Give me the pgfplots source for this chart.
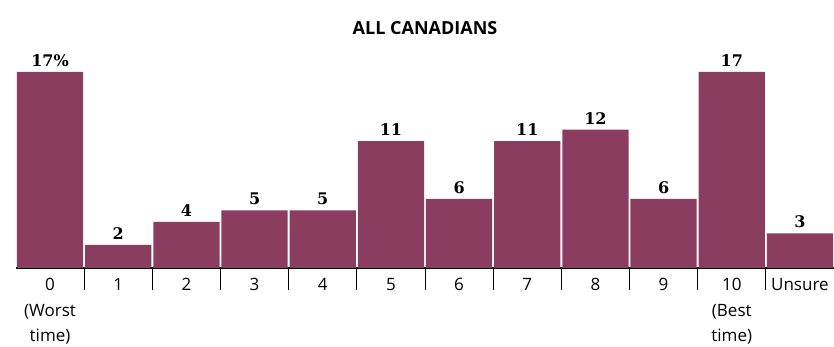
\documentclass[border=0pt]{standalone}
\usepackage{fontspec}
\setmainfont{Open Sans}
\newfontfamily\valfont{DejaVu Serif}
\usepackage{pgfplots}
\pgfplotsset{compat=1.18}
\usepackage{pgfplotstable}
\definecolor{barc}{RGB}{138,61,94}
\pgfplotstableread{
x y lab
0 17 17\%
1 2 2
2 4 4
3 5 5
4 5 5
5 11 11
6 6 6
7 11 11
8 12 12
9 6 6
10 17 17
11 3 3
}\datatable
\begin{document}
\begin{tikzpicture}[x=1pt,y=1pt]
\path[use as bounding box] (0,0) rectangle (834,347);
\node[font=\bfseries\fontsize{18}{20}\selectfont] at (425,319) {ALL CANADIANS};
\begin{axis}[
  at={(16pt,79pt)}, anchor=south west,
  scale only axis, width=818pt, height=196pt,
  xmin=-0.5, xmax=11.5, ymin=0, ymax=17,
  axis x line*=bottom, axis y line=none,
  x axis line style={line width=1.6pt,-},
  ytick=\empty,
  xtick={0,...,11},
  xticklabels={{0\\(Worst\\time)},1,2,3,4,5,6,7,8,9,{10\\(Best\\time)},Unsure},
  major tick length=0pt,
  xticklabel style={align=center, font=\fontsize{17}{25.5}\selectfont, anchor=north, yshift=-7pt},
  extra x ticks={0.5,1.5,...,10.5},
  extra x tick labels={},
  extra x tick style={major tick length=22pt, tick style={black, line width=1pt}, tick align=outside},
  clip=false,
  ybar, bar width=66.3pt, bar shift=0pt,
  nodes near coords,
  point meta=explicit symbolic,
  every node near coord/.append style={font=\valfont\bfseries\fontsize{16}{18}\selectfont, yshift=2pt},
]
\addplot[fill=barc, draw=none] table[x=x, y=y, meta=lab] {\datatable};
\end{axis}
\end{tikzpicture}
\end{document}
